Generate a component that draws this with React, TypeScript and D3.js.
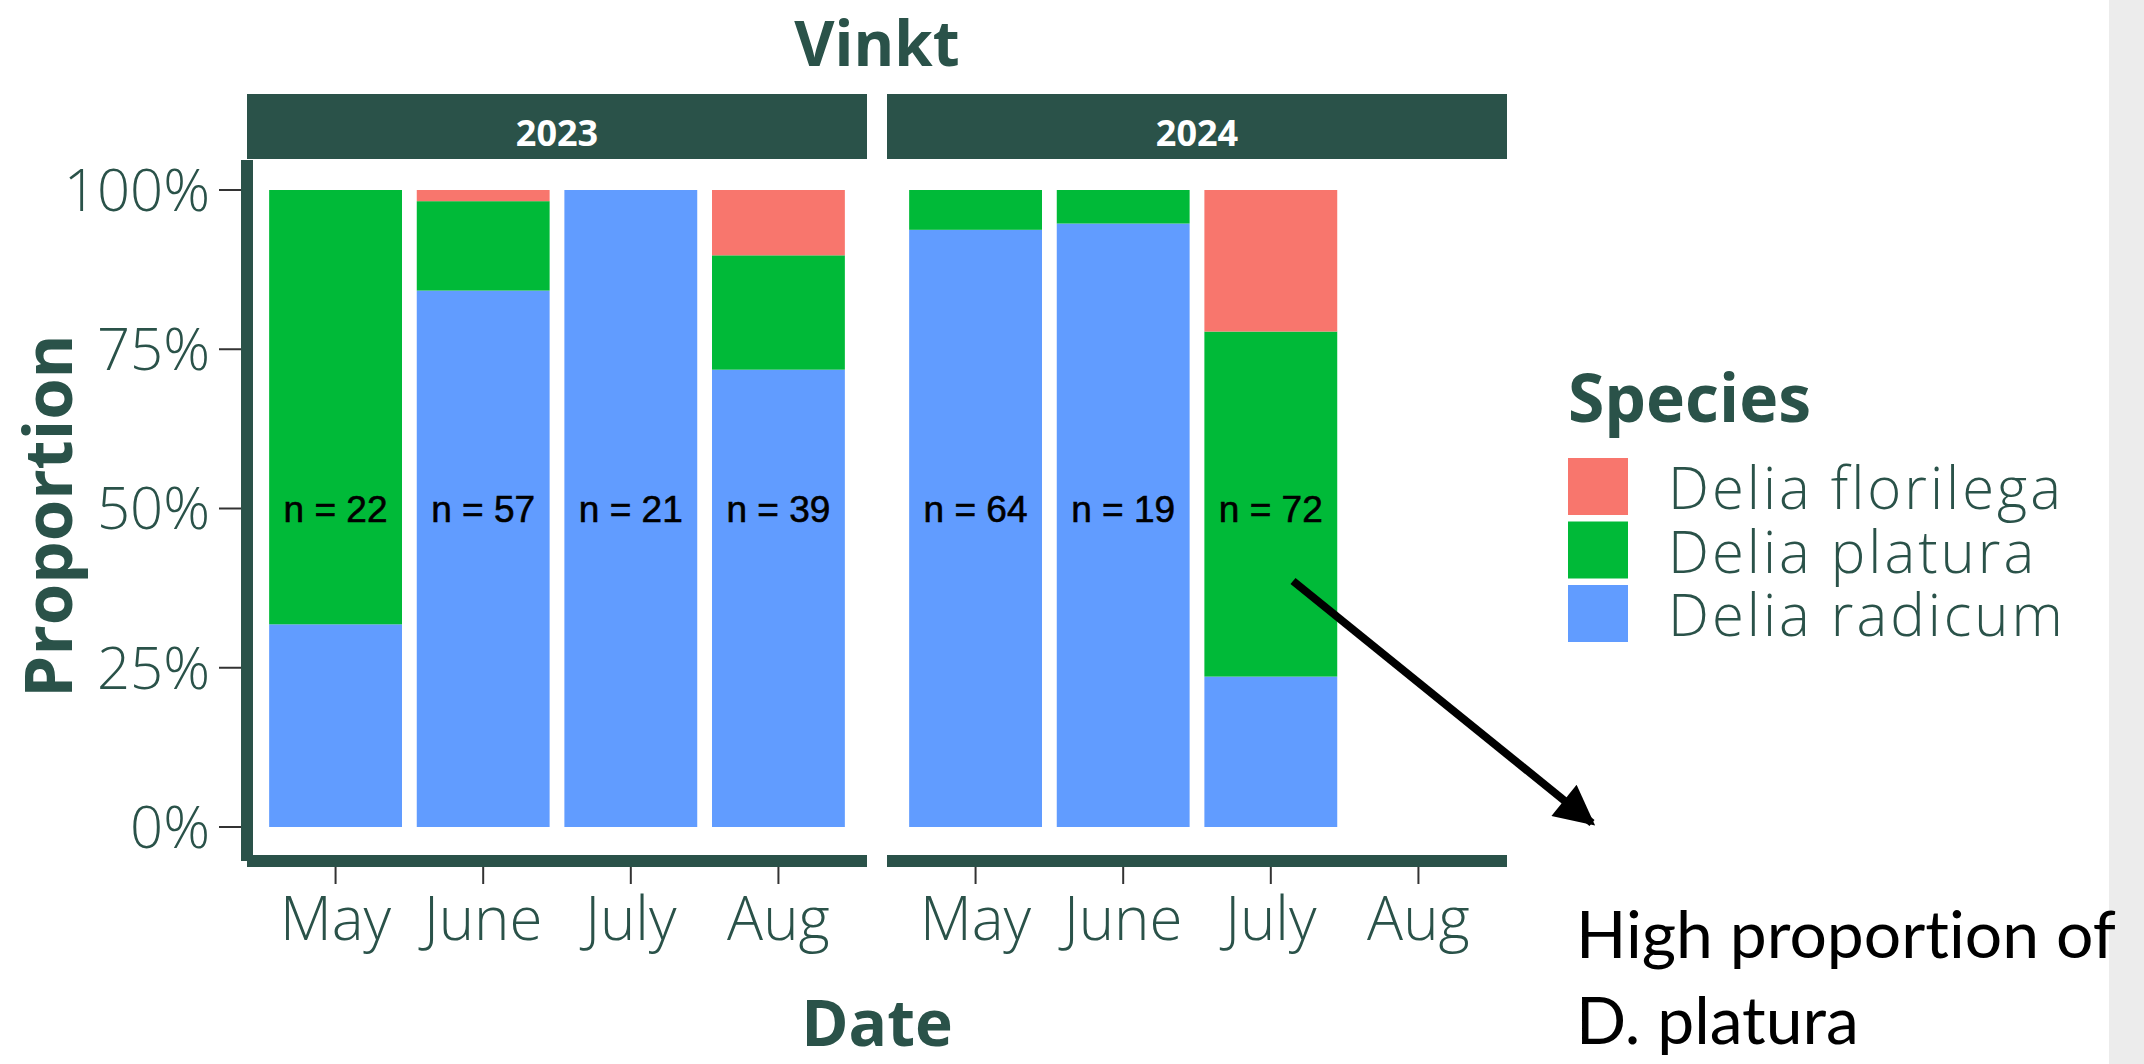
import * as d3 from 'd3'

const months = ['May', 'June', 'July', 'Aug']
const years = ['2023', '2024']
const species = ['Delia radicum', 'Delia platura', 'Delia florilega']
const legendOrder = ['Delia florilega', 'Delia platura', 'Delia radicum']
const speciesColors = ['#619CFF', '#00BA38', '#F8766D']

// counts per month (2024 has no August sample)
const radicum2023 = [7, 48, 21, 28]
const platura2023 = [15, 8, 0, 7]
const florilega2023 = [0, 1, 0, 4]
const radicum2024 = [60, 18, 17]
const platura2024 = [4, 1, 39]
const florilega2024 = [0, 0, 16]

const yTicks = [0, 0.25, 0.5, 0.75, 1]

type Row = { month: string; 'Delia radicum': number; 'Delia platura': number; 'Delia florilega': number; n: number }

function rows(r: number[], p: number[], f: number[]): Row[] {
  return r.map((v, i) => ({
    month: months[i],
    'Delia radicum': v,
    'Delia platura': p[i],
    'Delia florilega': f[i],
    n: v + p[i] + f[i],
  }))
}

const panels = [
  { year: years[0], data: rows(radicum2023, platura2023, florilega2023), x0: 247, x1: 867 },
  { year: years[1], data: rows(radicum2024, platura2024, florilega2024), x0: 887, x1: 1507 },
]

const dark = '#2a5249'
const light = "'Open Sans', sans-serif"
const calibri = "Lato, 'Liberation Sans', sans-serif"

export default function App() {
  const y = d3.scaleLinear([0, 1], [827, 190])
  const color = d3.scaleOrdinal<string, string>(species, speciesColors)
  const stack = d3.stack<Row>().keys(species).offset(d3.stackOffsetExpand)

  return (
    <svg width={2144} height={1064} style={{ position: 'absolute', left: 0, top: 0, background: '#fff' }}>
      <rect x={2109} y={0} width={35} height={1064} fill="#ececec" />

      <text x={877} y={66} textAnchor="middle" fontFamily={light} fontWeight={700} fontSize={62} fill={dark}>
        Vinkt
      </text>

      {panels.map((p) => {
        const x = d3.scaleBand(months, [p.x0, p.x1]).paddingInner(0.1).paddingOuter(0.15)
        const series = stack(p.data)
        return (
          <g key={p.year}>
            <rect x={p.x0} y={94} width={p.x1 - p.x0} height={65} fill={dark} />
            <text x={(p.x0 + p.x1) / 2} y={146} textAnchor="middle" fontFamily={light} fontWeight={700} fontSize={36} fill="#fff">
              {p.year}
            </text>
            {series.map((s) => (
              <g key={s.key} fill={color(s.key)}>
                {s.map((d) =>
                  d[1] - d[0] > 0 ? (
                    <rect
                      key={d.data.month}
                      x={x(d.data.month)}
                      width={x.bandwidth()}
                      y={y(d[1])}
                      height={y(d[0]) - y(d[1])}
                    />
                  ) : null
                )}
              </g>
            ))}
            {p.data.map((d) => (
              <text
                key={d.month}
                x={(x(d.month) as number) + x.bandwidth() / 2}
                y={y(0.5)}
                dy="0.36em"
                textAnchor="middle"
                fontFamily="'Liberation Sans', Arial, sans-serif"
                fontSize={37}
                stroke="#000"
                strokeWidth={0.6}
                fill="#000"
              >
                n = {d.n}
              </text>
            ))}
            <rect x={p.x0} y={855} width={p.x1 - p.x0} height={12} fill={dark} />
            {months.map((m) => {
              const cx = (x(m) as number) + x.bandwidth() / 2
              return (
                <g key={m}>
                  <line x1={cx} x2={cx} y1={867} y2={884} stroke="#333" strokeWidth={2} />
                  <text x={cx} y={940} textAnchor="middle" fontFamily={light} fontWeight={300} fontSize={60} fill={dark}>
                    {m}
                  </text>
                </g>
              )
            })}
          </g>
        )
      })}

      {/* y axis */}
      <rect x={241} y={160} width={12} height={701} fill={dark} />
      {yTicks.map((t) => (
        <g key={t}>
          <line x1={219} x2={241} y1={y(t)} y2={y(t)} stroke="#333" strokeWidth={2} />
          <text x={210} y={y(t)} dy="0.36em" textAnchor="end" fontFamily={light} fontWeight={300} fontSize={58} fill={dark}>
            {d3.format('.0%')(t)}
          </text>
        </g>
      ))}
      <text
        transform={`translate(72,516) rotate(-90)`}
        textAnchor="middle"
        fontFamily={light}
        fontWeight={700}
        fontSize={67}
        fill={dark}
      >
        Proportion
      </text>
      <text x={877} y={1046} textAnchor="middle" fontFamily={light} fontWeight={700} fontSize={64} fill={dark}>
        Date
      </text>

      {/* legend */}
      <text x={1568} y={422} fontFamily={light} fontWeight={700} fontSize={66} fill={dark}>
        Species
      </text>
      {legendOrder.map((s, i) => (
        <g key={s} transform={`translate(1568,${458 + i * 63.5})`}>
          <rect width={60} height={57} fill={color(s)} />
          <text x={100} y={51} fontFamily={light} fontWeight={300} fontSize={58} letterSpacing={3} fill={dark}>
            {s}
          </text>
        </g>
      ))}

      {/* annotation */}
      <defs>
        <marker id="head" viewBox="0 0 10 10" refX={9} refY={5} markerWidth={6} markerHeight={5} orient="auto" markerUnits="strokeWidth">
          <path d="M0,0 L10,5 L0,10 Z" fill="#000" />
        </marker>
      </defs>
      <line x1={1293} y1={581} x2={1592} y2={823} stroke="#000" strokeWidth={8} markerEnd="url(#head)" />
      <text x={1576} y={958} fontFamily={calibri} fontSize={66} style={{ fontVariantLigatures: 'none' }} fill="#000">
        High proportion of
      </text>
      <text x={1576} y={1044} fontFamily={calibri} fontSize={66} style={{ fontVariantLigatures: 'none' }} fill="#000">
        D. platura
      </text>
    </svg>
  )
}
